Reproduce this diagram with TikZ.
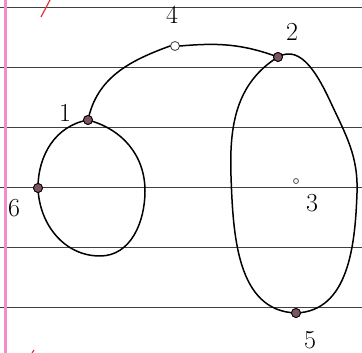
\documentclass[tikz,border=0pt]{standalone}
\usetikzlibrary{positioning}
\definecolor{ruling}{HTML}{404040}
\definecolor{margin}{HTML}{F28CCB}
\definecolor{redink}{HTML}{E0303A}
\definecolor{dotfill}{HTML}{7A5560}

\begin{document}
\begin{tikzpicture}[x=1pt,y=1pt,
  dot/.style={circle,draw=black,fill=dotfill,inner sep=0pt,minimum size=9pt,line width=0.8pt},
  hollow/.style={circle,draw=black!70,fill=white,inner sep=0pt,minimum size=9pt,line width=0.9pt},
  tiny/.style={circle,draw=black!70,fill=white,inner sep=0pt,minimum size=5pt,line width=0.8pt},
  num/.style={font=\fontsize{26}{26}\selectfont,inner sep=0pt},
  curve/.style={line width=1.5pt,line cap=round}]
\useasboundingbox (0,0) rectangle (362,353);
% paper
\foreach \y in {345,285,225,165,105,45}
  \draw[ruling,line width=1pt] (0,\y)--(362,\y);
\draw[margin,line width=3pt] (5,0)--(5,353);
\draw[redink,line width=1.2pt] (50,353)--(41,336);
\draw[redink,line width=1.2pt] (32,0)--(34,3);
% points
\coordinate (ovl) at (231,177);
\coordinate (ovr) at (357,160);
\coordinate (ovt) at (331,250);
\coordinate (lpb) at (100,97);
\coordinate (lpr) at (145,162);
\node[dot] (p1) at (88,233) {};
\node[hollow] (p4) at (175,307) {};
\node[dot] (p2) at (278,296) {};
\node[dot] (p6) at (38,165) {};
\node[tiny] (p3) at (296,172) {};
\node[dot] (p5) at (296,40) {};
% curves
\draw[curve] (p1.center) to[out=190,in=90] (p6.center) to[out=-88,in=180] (lpb)
  to[out=0,in=-90] (lpr) to[out=90,in=-15] (p1.center);
\draw[curve] (p1.center) to[out=78,in=200] (p4.west);
\draw[curve] (p4.east) to[out=5,in=160] (p2.center);
\draw[curve] (p2.center) to[out=212,in=92] (ovl) to[out=-88,in=178] (p5.center)
  to[out=2,in=-92] (ovr) to[out=88,in=-65] (ovt) to[out=115,in=30] (p2.center);
\node[dot] at (p1) {};
\node[dot] at (p2) {};
\node[dot] at (p6) {};
\node[dot] at (p5) {};
% labels
\node[num] (l1) at (65,240) {1};
\node[num] (l4) at (172,338) {4};
\node[num] (l2) at (292,321) {2};
\node[num] (l6) at (14,145) {6};
\node[num] (l3) at (312,150) {3};
\node[num] (l5) at (310,13) {5};
\end{tikzpicture}
\end{document}
